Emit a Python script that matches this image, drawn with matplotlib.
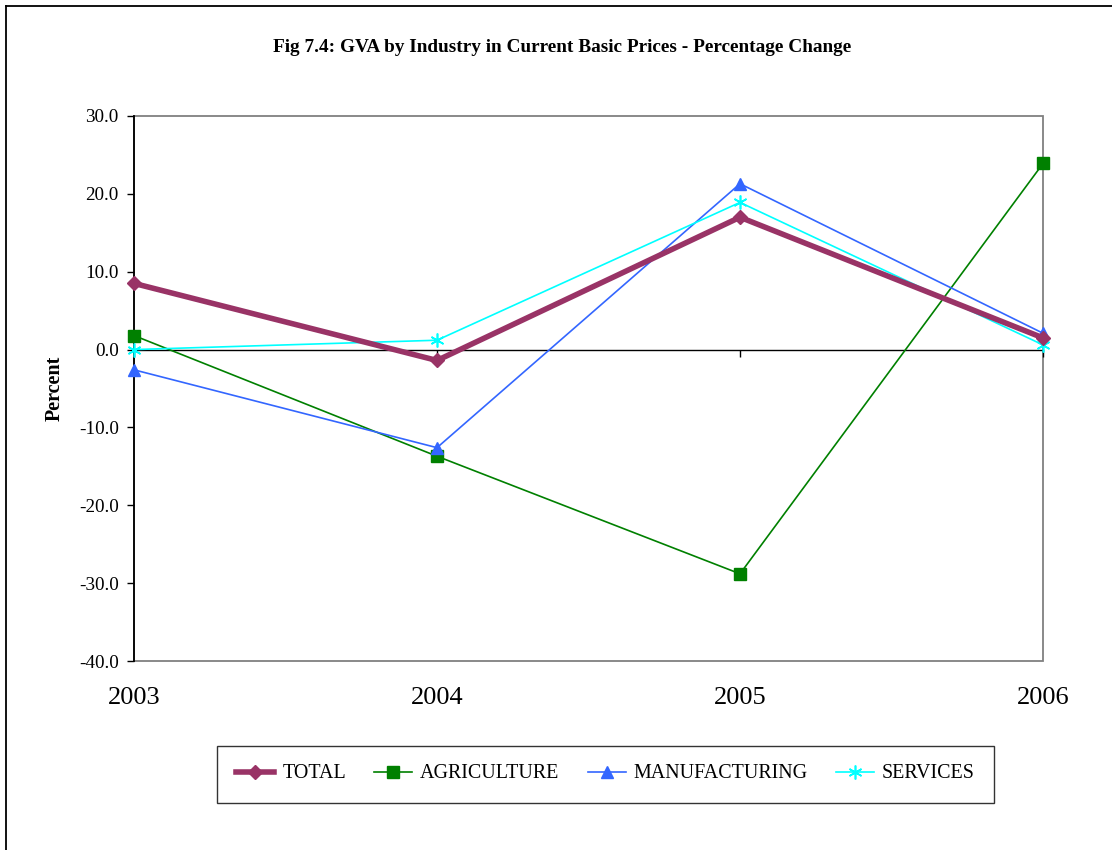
import numpy as np
import matplotlib.pyplot as plt
from matplotlib.patches import Rectangle
from matplotlib.lines import Line2D
import matplotlib.transforms as mtransforms

plt.rcParams['font.family'] = ['Liberation Serif', 'DejaVu Serif']

# data
years = ['2003', '2004', '2005', '2006']
total = [8.5, -1.4, 17.0, 1.5]
agriculture = [1.8, -13.7, -28.8, 23.9]
manufacturing = [-2.6, -12.6, 21.3, 2.1]
services = [0.0, 1.2, 18.9, 0.6]

fig = plt.figure(figsize=(11.12, 8.5), dpi=100)
ax = fig.add_axes([134 / 1112, 1 - 661 / 850, (1043 - 134) / 1112, (661 - 116) / 850])

x = np.arange(len(years))

# series
ax.plot(x, total, color='#993366', lw=4, marker='D', ms=7, label='TOTAL', zorder=5, clip_on=False)
ax.plot(x, agriculture, color='#008000', lw=1.2, marker='s', ms=8, label='AGRICULTURE',
        zorder=4, clip_on=False)
ax.plot(x, manufacturing, color='#3366FF', lw=1.2, marker='^', ms=9, label='MANUFACTURING',
        zorder=4, clip_on=False)
ax.plot(x, services, color='#00FFFF', lw=1.2, marker=(6, 2, 0), ms=10, mew=1.2,
        label='SERVICES', zorder=4, clip_on=False)

ax.set_xlim(0, len(years) - 1)
ax.set_ylim(-40, 30)
ax.set_yticks(np.arange(-40, 31, 10))
ax.set_yticklabels([f'{v:.1f}' for v in np.arange(-40, 31, 10)], fontsize=13.8)
ax.tick_params(axis='y', direction='out', length=5, width=1, color='black', pad=6)

# frame: gray box, black left axis, x axis at zero
for s in ['top', 'right']:
    ax.spines[s].set_visible(False)
ax.add_patch(Rectangle((0, 0), 1, 1, transform=ax.transAxes, fill=False,
                       edgecolor='#808080', lw=1.3, zorder=1, clip_on=False))
ax.spines['left'].set_color('black')
ax.spines['left'].set_linewidth(1.3)
ax.spines['left'].set_zorder(2)
ax.spines['bottom'].set_position(('data', 0))
ax.spines['bottom'].set_color('black')
ax.spines['bottom'].set_linewidth(1)
ax.set_xticks(x)
ax.set_xticklabels([])
ax.tick_params(axis='x', direction='out', length=5, width=1, color='black')

# year labels below plot area
trans = mtransforms.blended_transform_factory(ax.transData, ax.transAxes)
for xi, yr in zip(x, years):
    ax.text(xi, -0.067, yr, transform=trans, ha='center', va='center', fontsize=19)

ax.set_ylabel('Percent', fontsize=14.5, fontweight='bold', labelpad=10)

fig.text(562 / 1112, 1 - 48 / 850,
         'Fig 7.4: GVA by Industry in Current Basic Prices - Percentage Change',
         ha='center', va='center', fontsize=13.9, fontweight='bold')

leg = fig.legend(loc='center', bbox_to_anchor=(605.5 / 1112, 1 - 774 / 850), ncol=4,
                 fontsize=14.4, frameon=True, fancybox=False, edgecolor='black',
                 handlelength=1.9, columnspacing=1.4, borderpad=0.95, handletextpad=0.4)
leg.get_frame().set_linewidth(1)

# outer chart border (left and top visible)
fig.add_artist(Line2D([6 / 1112, 6 / 1112], [0, 1 - 6 / 850], color='black', lw=1.3))
fig.add_artist(Line2D([6 / 1112, 1], [1 - 6 / 850, 1 - 6 / 850], color='black', lw=1.3))

fig.savefig('out.png', dpi=100)
